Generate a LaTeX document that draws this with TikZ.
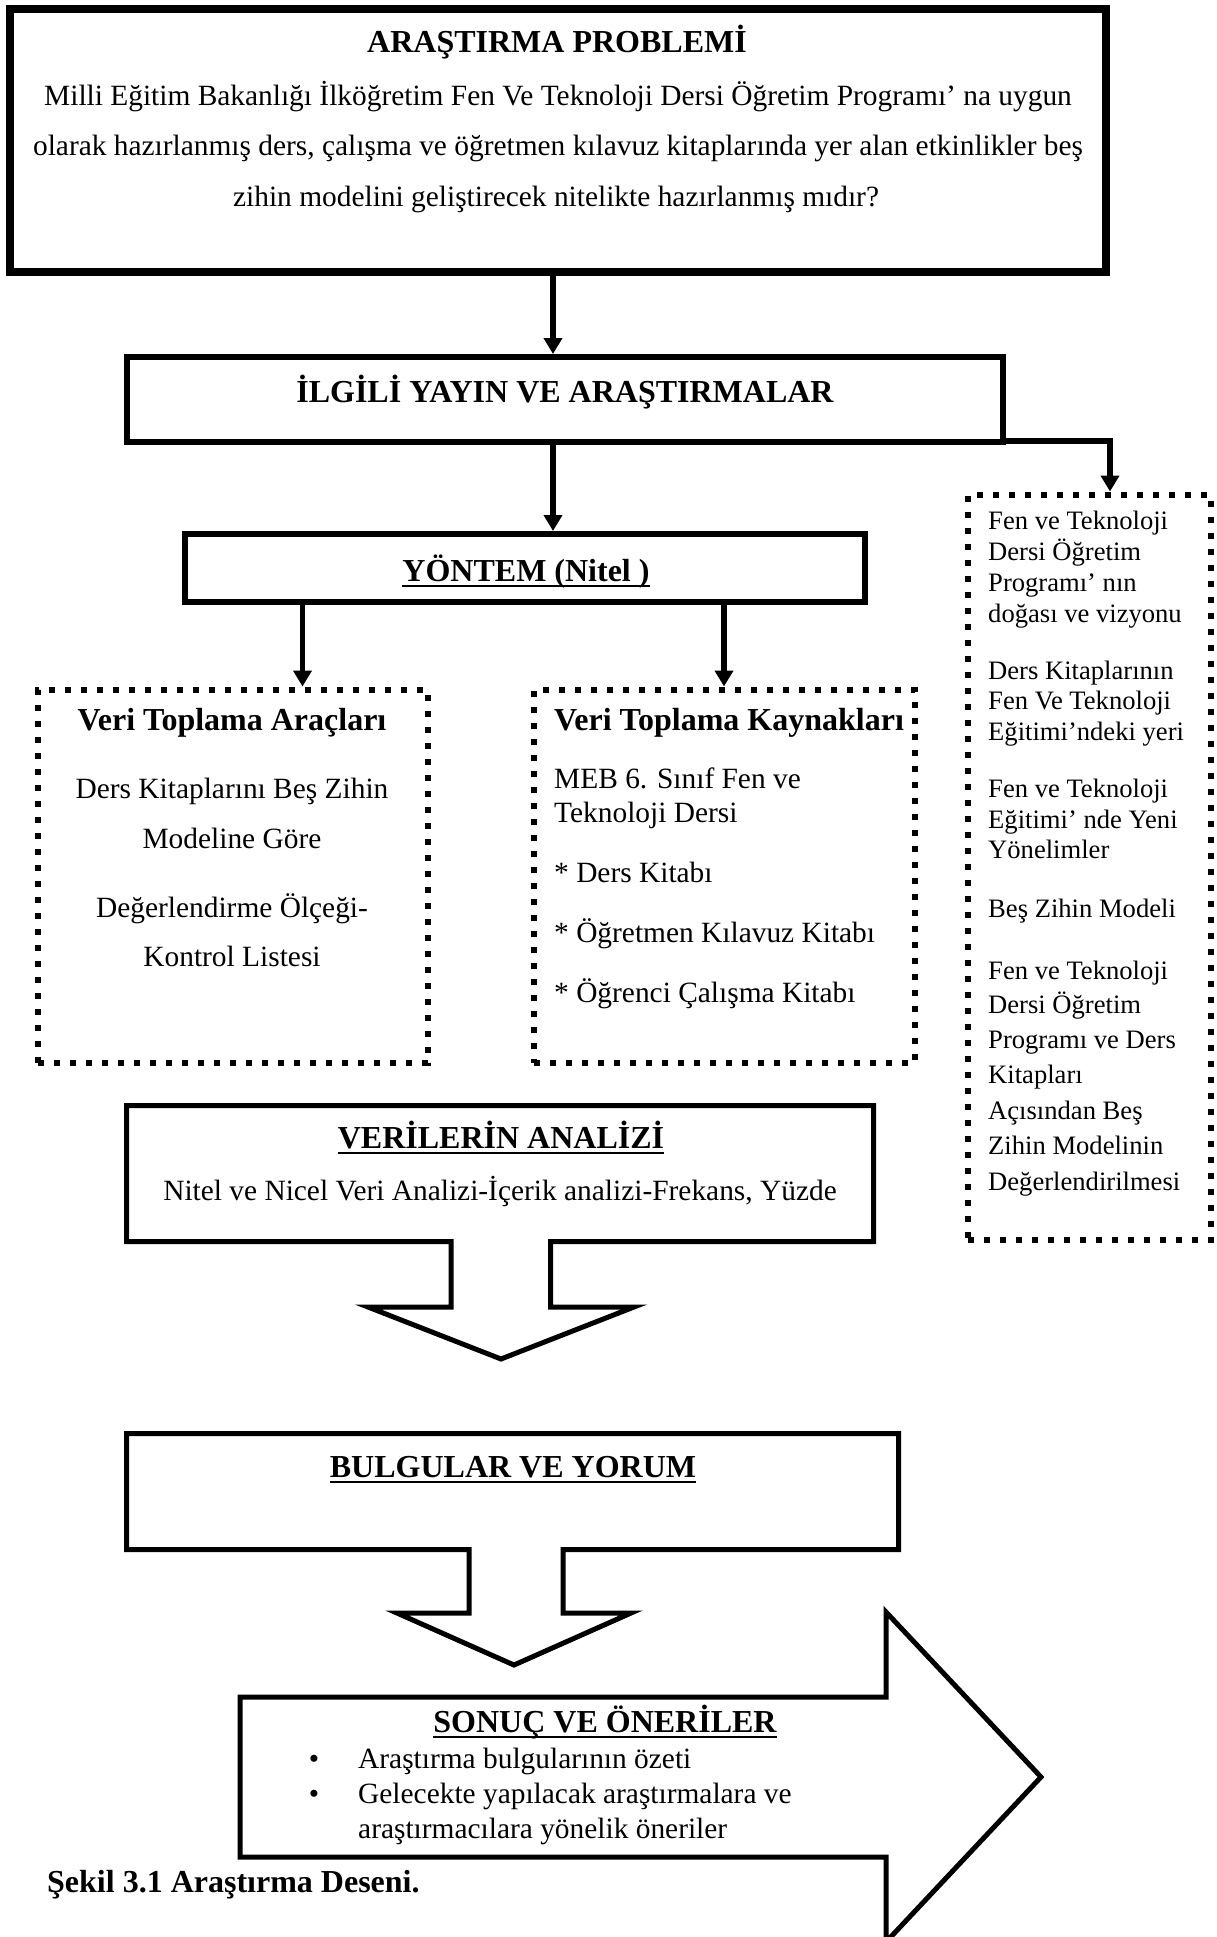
\documentclass[tikz,border=0pt]{standalone}
\usepackage{fontspec}
\setmainfont{Liberation Serif}
\usetikzlibrary{arrows.meta}
\newcommand{\bodyfont}{\fontsize{29.4}{34}\selectfont}
\newcommand{\sidefont}{\fontsize{26.6}{31}\selectfont}
\newcommand{\headfont}{\fontsize{32}{38}\selectfont\bfseries}
\newcommand{\ulx}[1]{\setbox0\hbox{#1}\rlap{\rule[-0.2em]{\wd0}{0.08em}}\box0}

\begin{document}
\begin{tikzpicture}[x=1pt,y=-1pt,
  thickbox/.style={draw, line width=6pt, inner sep=0pt},
  dotbox/.style={draw, line width=6pt, dash pattern=on 6pt off 10pt, inner sep=0pt},
  blockarrow/.style={draw, line width=5pt, line join=miter},
  conn/.style={line width=5.5pt, -{Triangle[length=16pt,width=18pt]}},
  txt/.style={anchor=base, inner sep=0pt},
  ltxt/.style={anchor=base west, inner sep=0pt}]
\useasboundingbox (0,0) rectangle (1216,1937);
\node[thickbox, line width=8pt, minimum width=1096pt, minimum height=263pt] (prob) at (558,140.5) {};
\node[txt, font=\headfont] (probt) at (557,53) {ARAŞTIRMA PROBLEMİ};
\node[txt, font=\bodyfont] (prob1) at (558,106) {Milli Eğitim Bakanlığı İlköğretim Fen Ve Teknoloji Dersi Öğretim Programı’ na uygun};
\node[txt, font=\bodyfont] (prob2) at (558,156) {olarak hazırlanmış ders, çalışma ve öğretmen kılavuz kitaplarında yer alan etkinlikler beş};
\node[txt, font=\bodyfont] (prob3) at (556,207) {zihin modelini geliştirecek nitelikte hazırlanmış mıdır?};

\node[thickbox, minimum width=876pt, minimum height=85pt] (ilgili) at (565,399.5) {};
\node[txt, font=\headfont] (ilgilit) at (565,402) {İLGİLİ YAYIN VE ARAŞTIRMALAR};

\node[thickbox, minimum width=680pt, minimum height=68pt] (yontem) at (525,568) {};
\node[txt, font=\headfont] (yontemt) at (526,581) {\ulx{YÖNTEM (Nitel )}};

\node[dotbox, minimum width=390pt, minimum height=373pt] (araclar) at (232.5,876) {};
\node[txt, font=\headfont] (araclart) at (232,730) {Veri Toplama Araçları};
\node[txt, font=\bodyfont] (arac1) at (232,798) {Ders Kitaplarını Beş Zihin};
\node[txt, font=\bodyfont] (arac2) at (232,848) {Modeline Göre};
\node[txt, font=\bodyfont] (arac3) at (232,917) {Değerlendirme Ölçeği-};
\node[txt, font=\bodyfont] (arac4) at (232,966) {Kontrol Listesi};

\node[dotbox, minimum width=381pt, minimum height=373pt] (kaynak) at (724,876) {};
\node[ltxt, font=\headfont] (kaynakt) at (554,730) {Veri Toplama Kaynakları};
\node[ltxt, font=\bodyfont] (kaynak1) at (554,788) {MEB 6. Sınıf Fen ve};
\node[ltxt, font=\bodyfont] (kaynak2) at (554,822) {Teknoloji Dersi};
\node[ltxt, font=\bodyfont] (kaynak3) at (554,882) {* Ders Kitabı};
\node[ltxt, font=\bodyfont] (kaynak4) at (554,942) {* Öğretmen Kılavuz Kitabı};
\node[ltxt, font=\bodyfont] (kaynak5) at (554,1002) {* Öğrenci Çalışma Kitabı};

\node[dotbox, minimum width=243pt, minimum height=745pt] (konu) at (1089,867) {};
\foreach \y/\t [count=\i] in {529/Fen ve Teknoloji, 560/Dersi Öğretim, 591/Programı’ nın,
    622/doğası ve vizyonu, 679/Ders Kitaplarının, 709/Fen Ve Teknoloji,
    740/Eğitimi’ndeki yeri, 797/Fen ve Teknoloji, 828/Eğitimi’ nde Yeni,
    858/Yönelimler, 917/Beş Zihin Modeli, 979/Fen ve Teknoloji,
    1013/Dersi Öğretim, 1048/Programı ve Ders, 1083/Kitapları,
    1119/Açısından Beş, 1154/Zihin Modelinin, 1190/Değerlendirilmesi}
  \node[ltxt, font=\sidefont] (konu\i) at (988,\y) {\t};

\coordinate (c1) at ([xshift=-5pt]prob.south);
\coordinate (a1) at ([xshift=70pt]araclar.north);
\coordinate (k0) at ([xshift=21pt]konu.north);
\draw[conn] (c1) -- (c1 |- ilgili.north);
\draw[conn] (ilgili.south -| c1) -- (c1 |- yontem.north);
\draw[conn] (yontem.south -| a1) -- (a1);
\draw[conn] (yontem.south -| kaynak.north) -- (kaynak.north);
\draw[conn] ([yshift=4pt]ilgili.south east) -| (k0);

\draw[blockarrow] (126.5,1105.5) -- (873.5,1105.5) -- (873.5,1241.5) -- (550.5,1241.5) -- (550.5,1307)
  -- (634,1307) -- (501,1359) -- (368,1307) -- (451,1307) -- (451,1241.5) -- (126.5,1241.5) -- cycle;
\node[txt, font=\headfont] (analizt) at (501,1148) {\ulx{VERİLERİN ANALİZİ}};
\node[txt, font=\bodyfont] (analiz1) at (500,1200) {Nitel ve Nicel Veri Analizi-İçerik analizi-Frekans, Yüzde};

\draw[blockarrow] (126.5,1433.5) -- (898.5,1433.5) -- (898.5,1549.5) -- (563,1549.5) -- (563,1613)
  -- (631,1613) -- (514,1665) -- (397,1613) -- (469,1613) -- (469,1549.5) -- (126.5,1549.5) -- cycle;
\node[txt, font=\headfont] (bulgut) at (513,1477) {\ulx{BULGULAR VE YORUM}};

\draw[blockarrow] (240,1697) -- (886,1697) -- (886,1612) -- (1041,1777) -- (886,1942) -- (886,1857)
  -- (240,1857) -- cycle;
\node[txt, font=\headfont] (sonuct) at (605,1732) {\ulx{SONUÇ VE ÖNERİLER}};
\node[txt, font=\bodyfont] (bul1) at (314,1768) {\textbullet};
\node[ltxt, font=\bodyfont] (sonuc1) at (358,1768) {Araştırma bulgularının özeti};
\node[txt, font=\bodyfont] (bul2) at (314,1803) {\textbullet};
\node[ltxt, font=\bodyfont] (sonuc2) at (358,1803) {Gelecekte yapılacak araştırmalara ve};
\node[ltxt, font=\bodyfont] (sonuc3) at (358,1838) {araştırmacılara yönelik öneriler};

\node[ltxt, font=\headfont] (sekil) at (47,1892) {Şekil 3.1 Araştırma Deseni.};
\end{tikzpicture}
\end{document}
